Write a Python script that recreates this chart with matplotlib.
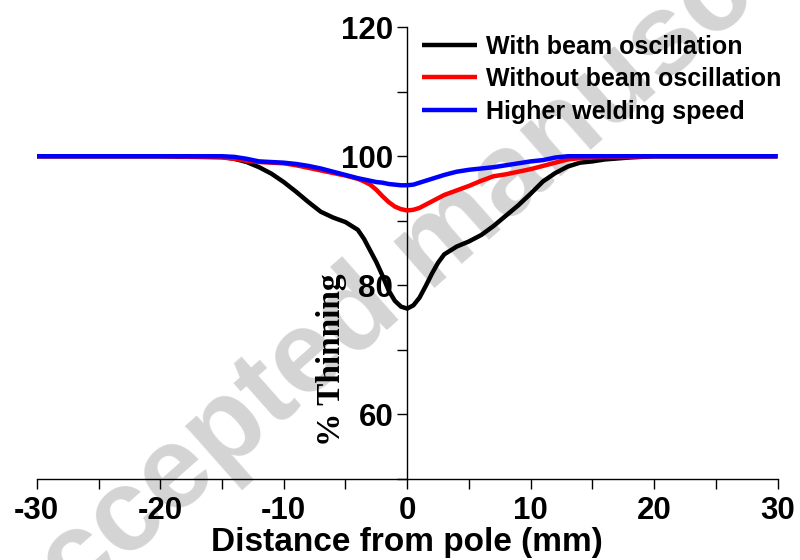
import matplotlib
matplotlib.use("Agg")
import matplotlib.pyplot as plt
from matplotlib.ticker import MultipleLocator

# ============ Data ============
distance = [-30, -20, -15, -14, -13, -12, -11, -10, -9, -8, -7, -6, -5, -4, -3.5, -3,
            -2.5, -2, -1.5, -1, -0.5, 0, 0.5, 1, 1.5, 2, 2.5, 3, 4, 5, 6, 7, 8, 9,
            10, 11, 12, 13, 14, 15, 16, 18, 20, 25, 30]

with_osc = [100, 100, 99.9, 99.6, 99.1, 98.3, 97.3, 96.0, 94.5, 92.9, 91.4, 90.5, 89.8, 88.6, 87.2, 85.4,
            83.6, 81.5, 79.2, 77.6, 76.7, 76.4, 76.9, 78.1, 79.9, 81.8, 83.5, 84.8, 86.0, 86.8, 87.8, 89.2, 90.8, 92.4,
            94.2, 96.1, 97.4, 98.4, 99.0, 99.2, 99.5, 99.8, 100, 100, 100]

without_osc = [100, 100, 99.8, 99.6, 99.3, 99.1, 99.0, 98.9, 98.6, 98.2, 97.8, 97.4, 97.0, 96.5, 96.1, 95.6,
               94.8, 93.8, 92.9, 92.2, 91.8, 91.6, 91.7, 92.0, 92.5, 93.0, 93.5, 94.0, 94.7, 95.4, 96.2, 96.9, 97.2, 97.6,
               98.0, 98.5, 99.0, 99.5, 99.7, 99.8, 99.9, 99.9, 100, 100, 100]

higher_speed = [100, 100, 100, 99.9, 99.6, 99.2, 99.1, 99.0, 98.8, 98.5, 98.1, 97.6, 97.1, 96.6, 96.4, 96.2,
                96.0, 95.9, 95.7, 95.6, 95.5, 95.5, 95.6, 95.9, 96.2, 96.5, 96.8, 97.1, 97.6, 97.9, 98.1, 98.3, 98.6, 98.9,
                99.2, 99.4, 99.8, 100, 100, 100, 100, 100, 100, 100, 100]

series_labels = ["With beam oscillation", "Without beam oscillation", "Higher welding speed"]
series_colors = ["black", "red", "blue"]

# ============ Figure ============
plt.rcParams['font.family'] = ['Liberation Sans', 'DejaVu Sans']
plt.rcParams['font.weight'] = 'bold'
plt.rcParams['axes.unicode_minus'] = False

fig = plt.figure(figsize=(8, 5.6), dpi=100)
ax = fig.add_axes([0.046, 0.1446, 0.926, 0.807])
ax.patch.set_alpha(0)

# watermark behind everything
ax.text(0.545, 0.560, "Accepted manuscript", transform=fig.transFigure, rotation=41.5,
        ha='center', va='center', fontsize=84, fontweight='bold', color='#d4d4d4',
        zorder=0.5, clip_on=False)

for ys, lab, col in zip([with_osc, without_osc, higher_speed], series_labels, series_colors):
    ax.plot(distance, ys, color=col, lw=3.2, label=lab, solid_joinstyle='round',
            solid_capstyle='butt', zorder=3)

ax.set_xlim(-30, 30)
ax.set_ylim(50, 120)

# axes through the pole
ax.spines['left'].set_position(('data', 0))
ax.spines['right'].set_visible(False)
ax.spines['top'].set_visible(False)
for s in ['left', 'bottom']:
    ax.spines[s].set_linewidth(1.0)

ax.xaxis.set_major_locator(MultipleLocator(10))
ax.xaxis.set_minor_locator(MultipleLocator(5))
ax.yaxis.set_major_locator(MultipleLocator(20))
ax.yaxis.set_minor_locator(MultipleLocator(10))
ax.tick_params(which='both', direction='out', length=7, width=1.0)
ax.tick_params(axis='x', which='major', labelsize=22.5, pad=5)
ax.tick_params(axis='y', which='major', labelsize=22.5, pad=3)

ax.set_xlabel("Distance from pole (mm)", fontsize=24, fontweight='bold', labelpad=1)
ax.text(0.398, 0.263, "% Thinning", transform=ax.transAxes, rotation=90,
        ha='center', va='center', fontsize=24, fontweight='bold',
        family=['Liberation Serif', 'DejaVu Serif'], zorder=4)

leg = ax.legend(loc='upper left', bbox_to_anchor=(0.5275, 0.938), bbox_transform=fig.transFigure,
                frameon=False, fontsize=18, handlelength=2.2, handletextpad=0.35,
                labelspacing=0.34, borderpad=0, borderaxespad=0)
for t in leg.get_texts():
    t.set_fontweight('bold')

fig.savefig("out.png", dpi=100)
